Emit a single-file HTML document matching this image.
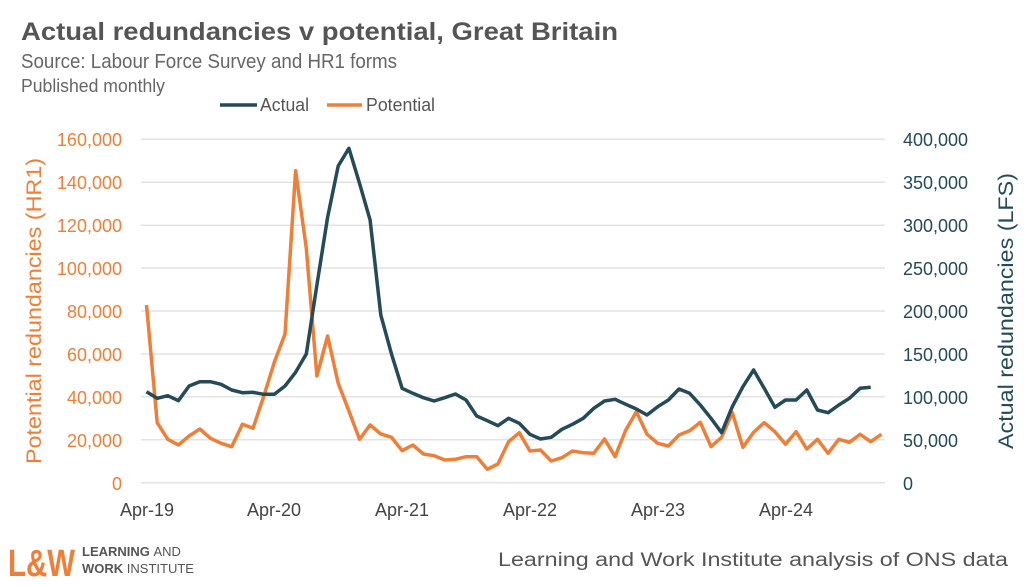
<!DOCTYPE html>
<html><head><meta charset="utf-8"><style>
html,body{margin:0;padding:0;background:#fff;}
svg{display:block;font-family:"Liberation Sans",sans-serif;}
</style></head><body>
<svg width="1024" height="586" viewBox="0 0 1024 586" xmlns="http://www.w3.org/2000/svg">
<rect width="1024" height="586" fill="#fff"/>
<text x="21" y="40" font-size="25" font-weight="bold" fill="#555" textLength="597" lengthAdjust="spacingAndGlyphs">Actual redundancies v potential, Great Britain</text>
<text x="21" y="68" font-size="20" fill="#666" textLength="376" lengthAdjust="spacingAndGlyphs">Source: Labour Force Survey and HR1 forms</text>
<text x="21" y="92" font-size="18" fill="#666" textLength="144" lengthAdjust="spacingAndGlyphs">Published monthly</text>
<line x1="220" y1="105" x2="257" y2="105" stroke="#244b57" stroke-width="3.5"/>
<text x="260" y="111" font-size="18" fill="#555" textLength="49" lengthAdjust="spacingAndGlyphs">Actual</text>
<line x1="327" y1="105" x2="362" y2="105" stroke="#ee7f38" stroke-width="3.5"/>
<text x="366" y="111" font-size="18" fill="#555" textLength="69" lengthAdjust="spacingAndGlyphs">Potential</text>
<g stroke="#e3e3e3" stroke-width="1.5">
<line x1="141" x2="885" y1="139.3" y2="139.3"/><line x1="141" x2="885" y1="182.3" y2="182.3"/>
<line x1="141" x2="885" y1="225.3" y2="225.3"/><line x1="141" x2="885" y1="268" y2="268"/>
<line x1="141" x2="885" y1="311" y2="311"/><line x1="141" x2="885" y1="354" y2="354"/>
<line x1="141" x2="885" y1="396.7" y2="396.7"/><line x1="141" x2="885" y1="439.7" y2="439.7"/>
<line x1="141" x2="885" y1="482.7" y2="482.7"/>
</g>
<g font-size="18" fill="#ee7f38" text-anchor="end">
<text x="122" y="146">160,000</text><text x="122" y="189">140,000</text><text x="122" y="232">120,000</text>
<text x="122" y="275">100,000</text><text x="122" y="318">80,000</text><text x="122" y="361">60,000</text>
<text x="122" y="404">40,000</text><text x="122" y="447">20,000</text><text x="122" y="490">0</text>
</g>
<g font-size="18" fill="#244b57">
<text x="903" y="146">400,000</text><text x="903" y="189">350,000</text><text x="903" y="232">300,000</text>
<text x="903" y="275">250,000</text><text x="903" y="318">200,000</text><text x="903" y="361">150,000</text>
<text x="903" y="404">100,000</text><text x="903" y="447">50,000</text><text x="903" y="490">0</text>
</g>
<text transform="translate(41,311) rotate(-90)" font-size="21" fill="#ee7f38" text-anchor="middle" textLength="306" lengthAdjust="spacingAndGlyphs">Potential redundancies (HR1)</text>
<text transform="translate(1013,311) rotate(-90)" font-size="21" fill="#244b57" text-anchor="middle" textLength="276" lengthAdjust="spacingAndGlyphs">Actual redundancies (LFS)</text>
<g font-size="18" fill="#444" text-anchor="middle">
<text x="147" y="516">Apr-19</text><text x="274" y="516">Apr-20</text><text x="402" y="516">Apr-21</text>
<text x="530" y="516">Apr-22</text><text x="658" y="516">Apr-23</text><text x="786" y="516">Apr-24</text>
</g>
<polyline id="pot" fill="none" stroke="#ee7f38" stroke-width="3.5" stroke-linejoin="round" points=""/>
<polyline id="act" fill="none" stroke="#244b57" stroke-width="3.5" stroke-linejoin="round" points=""/>
<text x="8" y="576" font-size="38" font-weight="bold" fill="#ee7f38" textLength="67" lengthAdjust="spacingAndGlyphs">L&amp;W</text>
<text x="82" y="556" font-size="13" font-weight="bold" fill="#555">LEARNING <tspan font-weight="normal">AND</tspan></text>
<text x="82" y="573" font-size="13" font-weight="bold" fill="#555">WORK <tspan font-weight="normal">INSTITUTE</tspan></text>
<text x="1008" y="566" font-size="19" fill="#555" text-anchor="end" textLength="510" lengthAdjust="spacingAndGlyphs">Learning and Work Institute analysis of ONS data</text>
</svg>
<script>
var pot=[305,422.7,439.3,445,436,429,438.3,443.3,446.7,424.3,428.3,396.7,362.3,334,170.7,248.3,376,336,383.3,411,439.3,425,434,437.3,450.7,445,454,455.7,460,459.3,456.7,456.7,469.3,464,441.7,
432.7,451,450,461,457.7,451,452.7,453.3,439,456.7,430,411.7,434.3,443.3,446,435,430.7,422.3,446.7,437.3,412.7,447.3,432.3,422.7,431.7,444.3,431.7,449,439.3,453.3,439.3,442.3,434.3,441.7,434.3];
var act=[391.7,398.3,395.7,400.7,386,381.7,381.7,384.3,390,392.7,392.3,394.3,394.3,386,372.3,354,285,217.3,166,148.3,183.3,220,315,354,388.3,393.3,397.7,401,397.7,394,400,416,420.7,425.7,418.3,
423.3,434.3,439,437.3,429.3,424.3,418.3,408.3,401,399.3,404.3,409,415,406.7,400,389,393.3,405,418.3,432.7,406.7,386.7,370,388.3,407.3,400,400,390,410,412.7,405,398.3,388.3,387.3];
function pts(a){return a.map(function(y,i){return (146.5+10.65*i).toFixed(1)+","+y}).join(" ");}
document.getElementById("pot").setAttribute("points",pts(pot));
document.getElementById("act").setAttribute("points",pts(act));
</script>
</body></html>
